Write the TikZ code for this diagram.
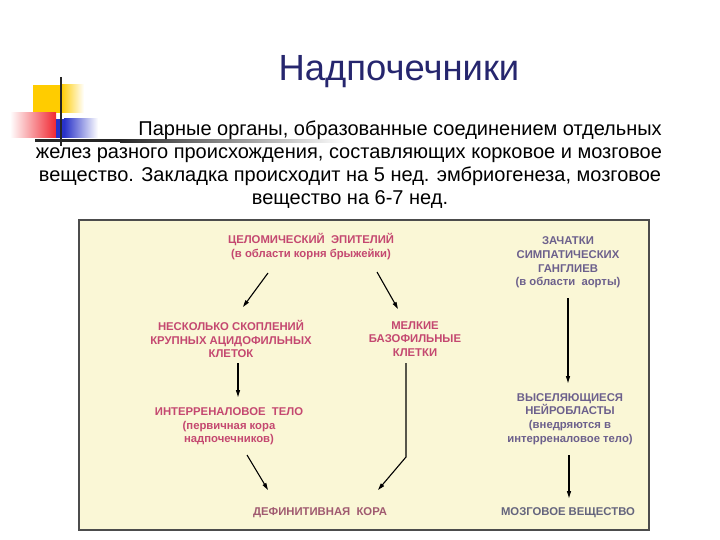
\documentclass[tikz,border=0pt]{standalone}
\usepackage{fontspec}
\setmainfont{Liberation Sans}
\usetikzlibrary{arrows.meta}
\definecolor{cream}{RGB}{250,247,214}
\definecolor{titleblue}{RGB}{38,38,110}
\definecolor{pinktxt}{RGB}{196,72,112}
\definecolor{purptxt}{RGB}{108,96,140}
\definecolor{defcol}{RGB}{160,90,112}
\definecolor{mozcol}{RGB}{100,100,125}
\definecolor{decoyellow}{RGB}{255,204,0}
\definecolor{decored}{RGB}{240,40,50}
\definecolor{decoblue}{RGB}{40,50,200}
\tikzset{
  lbl/.style={inner sep=0pt, align=center, font=\fontsize{11.3}{13.7}\selectfont\bfseries},
  body/.style={inner sep=0pt, anchor=base, font=\fontsize{20}{23}\selectfont},
  arr/.style={line width=1.1pt, -{Triangle[length=7pt,width=4pt]}},
}
\begin{document}
\begin{tikzpicture}[x=1pt,y=-1pt]
\useasboundingbox (0,0) rectangle (720,540);
% decoration
\fill[decoyellow] (33,85) rectangle (61,113);
\shade[left color=decoyellow, right color=white] (61,85) rectangle (84,113);
\shade[left color=white, right color=decored] (10,113) rectangle (56,138);
\fill[decoblue] (56,119) rectangle (64,138);
\shade[left color=decoblue, right color=white] (64,119) rectangle (98,138);
\fill[black!85] (35,139.5) rectangle (120,142.5);
\shade[left color=black!85, right color=white] (120,139.5) rectangle (345,142.5);
\draw[line width=2.5pt, black!85] (61,77) -- (61,146);
% title and body
\node[inner sep=0pt, anchor=base, text=titleblue, font=\fontsize{36.4}{40}\selectfont] (title) at (399,81) {Надпочечники};
\node[body, anchor=base east] (l1) at (662,136) {Парные органы, образованные соединением отдельных};
\node[body] (l2) at (349,159) {желез разного происхождения, составляющих корковое и мозговое};
\node[body] (l3) at (350,182) {вещество. Закладка происходит на 5 нед. эмбриогенеза, мозговое};
\node[body] (l4) at (350,205) {вещество на 6-7 нед.};
% frame
\draw[line width=1.4pt, draw=black!70, fill=cream] (79,220) rectangle (649,530);
% nodes
\node[lbl, text=pinktxt] (n1) at (311,246.5) {ЦЕЛОМИЧЕСКИЙ\ \ ЭПИТЕЛИЙ\\(в области корня брыжейки)};
\node[lbl, text=pinktxt] (n2) at (231,339) {НЕСКОЛЬКО СКОПЛЕНИЙ\\КРУПНЫХ АЦИДОФИЛЬНЫХ\\КЛЕТОК};
\node[lbl, text=pinktxt] (n3) at (415,339) {МЕЛКИЕ\\БАЗОФИЛЬНЫЕ\\КЛЕТКИ};
\node[lbl, text=pinktxt] (n4) at (229,426.5) {ИНТЕРРЕНАЛОВОЕ\ \ ТЕЛО\\(первичная кора\\надпочечников)};
\node[lbl, text=defcol] (n5) at (320,513) {ДЕФИНИТИВНАЯ\ \ КОРА};
\node[lbl, text=purptxt] (n6) at (568,262.5) {ЗАЧАТКИ\\СИМПАТИЧЕСКИХ\\ГАНГЛИЕВ\\(в области\ \ аорты)};
\node[lbl, text=purptxt] (n7) at (570,419) {ВЫСЕЛЯЮЩИЕСЯ\\НЕЙРОБЛАСТЫ\\(внедряются в\\интерреналовое тело)};
\node[lbl, text=mozcol] (n8) at (568,513) {МОЗГОВОЕ ВЕЩЕСТВО};
% connector end points
\coordinate (a1s) at (268,273); \coordinate (a1e) at (243,307);
\coordinate (a2s) at (377,272); \coordinate (a2e) at (398,309);
\coordinate (a3s) at (238,363); \coordinate (a3e) at (238,397);
\coordinate (a4s) at (406,363); \coordinate (a4m) at (406,457); \coordinate (a4e) at (378,490);
\coordinate (a5s) at (247,455); \coordinate (a5e) at (268,490);
\coordinate (a6s) at (568,298); \coordinate (a6e) at (568,383);
\coordinate (a7s) at (569,455); \coordinate (a7e) at (569,498);
\draw[arr] (a1s) -- (a1e);
\draw[arr] (a2s) -- (a2e);
\draw[arr] (a3s) -- (a3e);
\draw[arr] (a4s) -- (a4m) -- (a4e);
\draw[arr] (a5s) -- (a5e);
\draw[arr] (a6s) -- (a6e);
\draw[arr] (a7s) -- (a7e);
\end{tikzpicture}
\end{document}
